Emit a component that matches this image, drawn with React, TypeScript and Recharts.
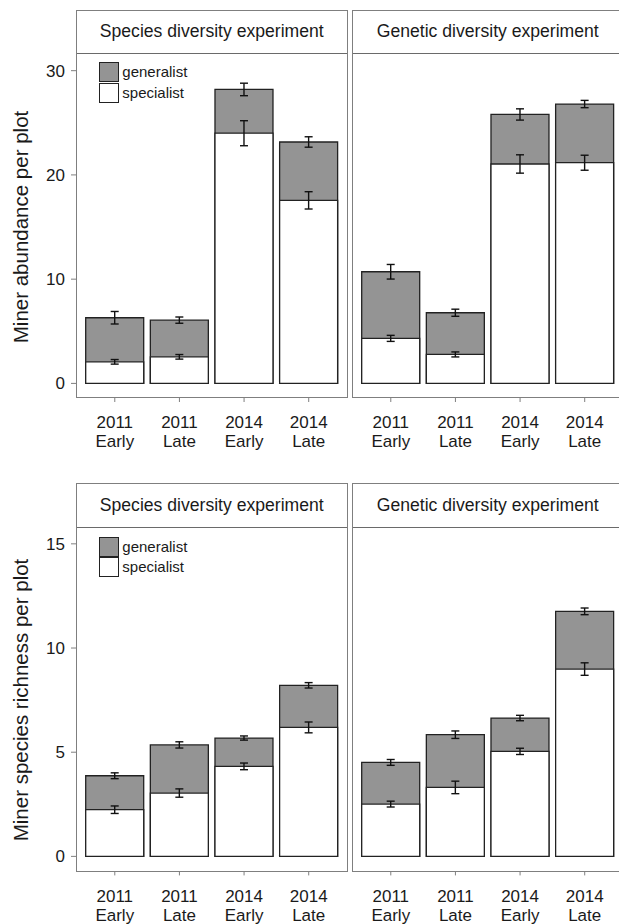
import React from "react";
import { Bar, BarChart, ErrorBar, Legend, XAxis, YAxis } from "recharts";

const categories = ["2011\nEarly", "2011\nLate", "2014\nEarly", "2014\nLate"];
const experiments = ["Species diversity experiment", "Genetic diversity experiment"];
const seriesNames = ["generalist", "specialist"];

// abundance, species diversity experiment (total = generalist + specialist)
const abSpeciesTotal = [6.3, 6.07, 28.2, 23.16];
const abSpeciesTotalSe = [0.6, 0.3, 0.6, 0.5];
const abSpeciesSpec = [2.07, 2.55, 24.0, 17.56];
const abSpeciesSpecSe = [0.22, 0.22, 1.2, 0.83];

// abundance, genetic diversity experiment
const abGeneticTotal = [10.71, 6.78, 25.8, 26.8];
const abGeneticTotalSe = [0.7, 0.34, 0.54, 0.35];
const abGeneticSpec = [4.32, 2.78, 21.05, 21.17];
const abGeneticSpecSe = [0.29, 0.24, 0.88, 0.72];

// richness, species diversity experiment
const riSpeciesTotal = [3.87, 5.35, 5.68, 8.21];
const riSpeciesTotalSe = [0.14, 0.15, 0.1, 0.13];
const riSpeciesSpec = [2.24, 3.04, 4.32, 6.19];
const riSpeciesSpecSe = [0.18, 0.2, 0.16, 0.26];

// richness, genetic diversity experiment
const riGeneticTotal = [4.51, 5.84, 6.64, 11.76];
const riGeneticTotalSe = [0.14, 0.18, 0.13, 0.16];
const riGeneticSpec = [2.51, 3.31, 5.04, 8.99];
const riGeneticSpecSe = [0.14, 0.3, 0.15, 0.3];

const abundanceTicks = [0, 10, 20, 30];
const richnessTicks = [0, 5, 10, 15];

const FONT = '"Liberation Sans", Arial, Helvetica, sans-serif';
const TEXT = "#1a1a1a";
const FRAME = "#7f7f7f";
const GREY = "#949494";
const PLOT_W = 271.5;
const PAD = (PLOT_W / 4.2) * 0.1;
const COL_LEFT = [76, 352];

function rows(total: number[], totalSe: number[], spec: number[], specSe: number[]) {
  return categories.map((label, i) => ({
    label,
    total: total[i],
    totalSe: totalSe[i],
    spec: spec[i],
    specSe: specSe[i],
  }));
}

const CatTick = (props: any) => {
  const { x, y, payload } = props;
  const [year, season] = String(payload.value).split("\n");
  return (
    <text x={x} y={y} textAnchor="middle" fill={TEXT} fontSize={17} fontFamily={FONT}>
      <tspan x={x} dy={26.3}>{year}</tspan>
      <tspan x={x} dy={19}>{season}</tspan>
    </text>
  );
};

const LegendBox = (props: any) => {
  const items = (props.payload || []).length
    ? props.payload.map((p: any) => ({ label: p.value, fill: p.color }))
    : [
        { label: seriesNames[0], fill: GREY },
        { label: seriesNames[1], fill: "#fff" },
      ];
  return (
    <div style={{ display: "flex", flexDirection: "column", fontFamily: FONT }}>
      {items.map((it: any) => (
        <div key={it.label} style={{ display: "flex", alignItems: "center", height: 20.5 }}>
          <div
            style={{
              width: 20,
              height: 20,
              boxSizing: "border-box",
              background: it.fill,
              border: "1.5px solid #222",
            }}
          />
          <span style={{ marginLeft: 3, fontSize: 15, color: TEXT, lineHeight: "20px" }}>
            {it.label}
          </span>
        </div>
      ))}
    </div>
  );
};

type PanelProps = {
  col: number;
  stripTop: number;
  plotTop: number;
  plotBottom: number;
  data: ReturnType<typeof rows>;
  domain: [number, number];
  ticks: number[];
};

function Panel({ col, stripTop, plotTop, plotBottom, data, domain, ticks }: PanelProps) {
  const plotLeft = COL_LEFT[col];
  const plotH = plotBottom - plotTop;
  const showY = col === 0;
  const chartLeft = showY ? 0 : plotLeft;
  const chartW = showY ? plotLeft + PLOT_W : PLOT_W;
  return (
    <>
      <div style={{ position: "absolute", left: chartLeft, top: plotTop }}>
        <BarChart
          width={chartW}
          height={plotH + 60}
          data={data}
          margin={{ top: 0, right: 0, bottom: 0, left: 0 }}
          barCategoryGap="5%"
        >
          <XAxis
            xAxisId="main"
            dataKey="label"
            interval={0}
            padding={{ left: PAD, right: PAD }}
            axisLine={false}
            tickLine={{ stroke: FRAME }}
            tickSize={4}
            tickMargin={0}
            tick={<CatTick />}
            height={60}
          />
          <XAxis xAxisId="over" dataKey="label" hide padding={{ left: PAD, right: PAD }} />
          <YAxis
            type="number"
            domain={domain}
            ticks={ticks}
            allowDataOverflow
            hide={!showY}
            width={showY ? plotLeft : 0}
            axisLine={false}
            tickLine={{ stroke: FRAME }}
            tickSize={5}
            tickMargin={6}
            tick={{ fill: TEXT, fontSize: 17, fontFamily: FONT }}
          />
          {showY && (
            <Legend
              content={<LegendBox />}
              layout="vertical"
              verticalAlign="middle"
              align="center"
              wrapperStyle={{ left: 99.3, top: 8, width: "auto", height: "auto" }}
            />
          )}
          <Bar
            xAxisId="main"
            dataKey="total"
            name={seriesNames[0]}
            fill={GREY}
            stroke="#222"
            strokeWidth={1.3}
            isAnimationActive={false}
          >
            <ErrorBar dataKey="totalSe" width={4} stroke="#111" strokeWidth={1.4} direction="y" />
          </Bar>
          <Bar
            xAxisId="over"
            dataKey="spec"
            name={seriesNames[1]}
            fill="#ffffff"
            stroke="#222"
            strokeWidth={1.3}
            isAnimationActive={false}
          >
            <ErrorBar dataKey="specSe" width={4} stroke="#111" strokeWidth={1.4} direction="y" />
          </Bar>
        </BarChart>
      </div>
      <div
        style={{
          position: "absolute",
          left: plotLeft,
          top: stripTop,
          width: PLOT_W,
          height: plotBottom - stripTop,
          boxSizing: "border-box",
          border: `1px solid ${FRAME}`,
          pointerEvents: "none",
        }}
      >
        <div
          style={{
            height: plotTop - stripTop - 1,
            boxSizing: "border-box",
            borderBottom: `1.5px solid #6a6a6a`,
            display: "flex",
            alignItems: "center",
            justifyContent: "center",
            fontSize: 17.6,
            color: TEXT,
            background: "#fff",
          }}
        >
          {experiments[col]}
        </div>
      </div>
    </>
  );
}

const YTitle = ({ text, cy }: { text: string; cy: number }) => (
  <div
    style={{
      position: "absolute",
      left: 20.5,
      top: cy,
      transform: "translate(-50%, -50%) rotate(-90deg)",
      whiteSpace: "nowrap",
      fontSize: 20.5,
      color: TEXT,
    }}
  >
    {text}
  </div>
);

export default function App() {
  const abundanceDomain: [number, number] = [-1.4, 31.6];
  const richnessDomain: [number, number] = [-0.72, 15.76];
  return (
    <div
      style={{
        position: "fixed",
        left: 0,
        top: 0,
        width: 619,
        height: 924,
        overflow: "hidden",
        background: "#fff",
        fontFamily: FONT,
      }}
    >
      <Panel
        col={0}
        stripTop={9.5}
        plotTop={54}
        plotBottom={398}
        data={rows(abSpeciesTotal, abSpeciesTotalSe, abSpeciesSpec, abSpeciesSpecSe)}
        domain={abundanceDomain}
        ticks={abundanceTicks}
      />
      <Panel
        col={1}
        stripTop={9.5}
        plotTop={54}
        plotBottom={398}
        data={rows(abGeneticTotal, abGeneticTotalSe, abGeneticSpec, abGeneticSpecSe)}
        domain={abundanceDomain}
        ticks={abundanceTicks}
      />
      <Panel
        col={0}
        stripTop={482.7}
        plotTop={528.3}
        plotBottom={871.7}
        data={rows(riSpeciesTotal, riSpeciesTotalSe, riSpeciesSpec, riSpeciesSpecSe)}
        domain={richnessDomain}
        ticks={richnessTicks}
      />
      <Panel
        col={1}
        stripTop={482.7}
        plotTop={528.3}
        plotBottom={871.7}
        data={rows(riGeneticTotal, riGeneticTotalSe, riGeneticSpec, riGeneticSpecSe)}
        domain={richnessDomain}
        ticks={richnessTicks}
      />
      <YTitle text="Miner abundance per plot" cy={226.5} />
      <YTitle text="Miner species richness per plot" cy={700} />
    </div>
  );
}
